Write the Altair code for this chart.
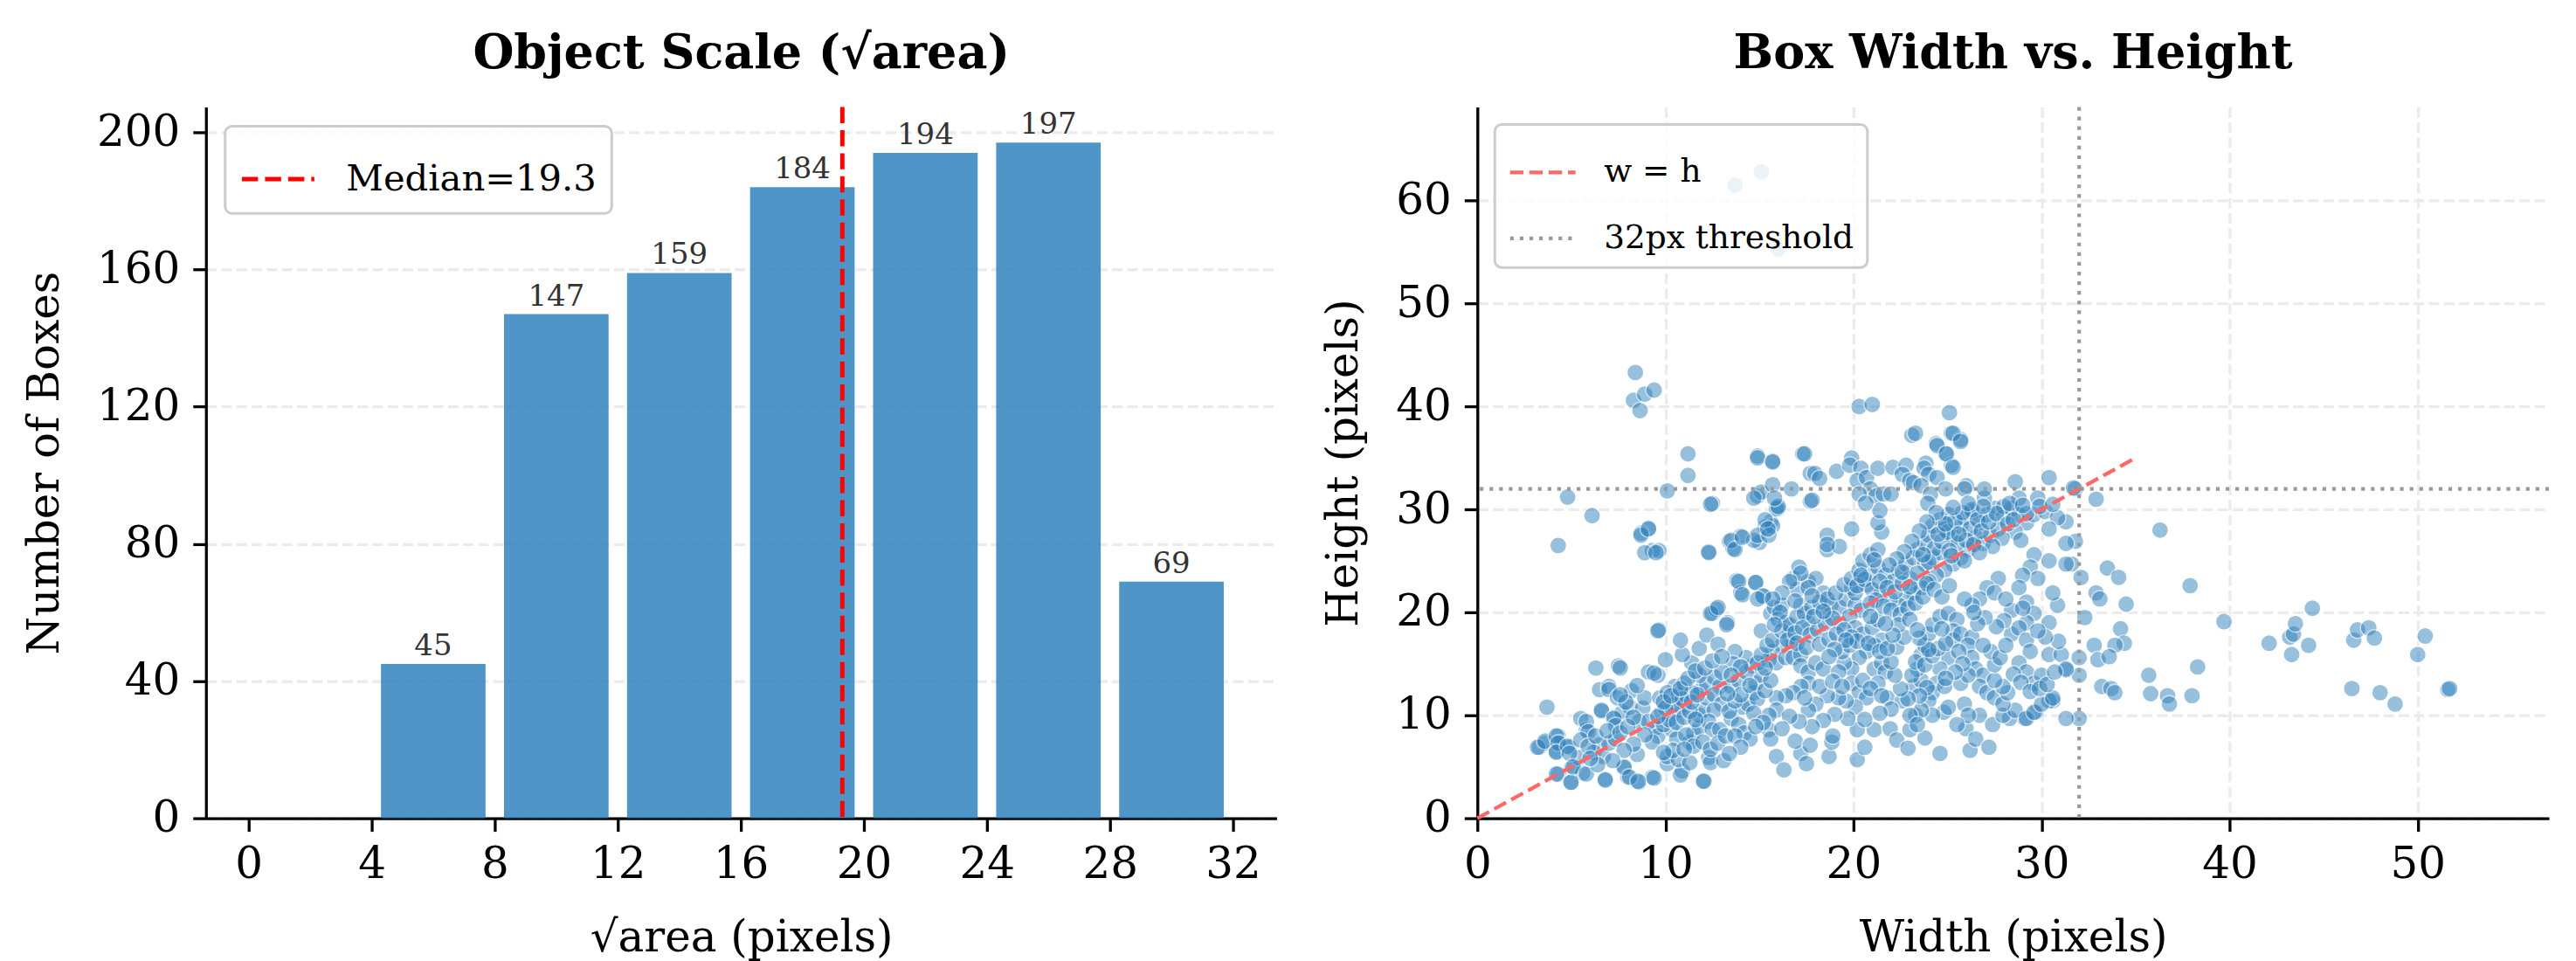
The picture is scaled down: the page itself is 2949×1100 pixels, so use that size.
import altair as alt
import pandas as pd

# ---------------- left panel data ----------------
bin_start = [4, 8, 12, 16, 20, 24, 28]
bin_end = [8, 12, 16, 20, 24, 28, 32]
bin_count = [45, 147, 159, 184, 194, 197, 69]
median_sqrt_area = 19.3
left_x_ticks = [0, 4, 8, 12, 16, 20, 24, 28, 32]
left_y_ticks = [0, 40, 80, 120, 160, 200]

# ---------------- right panel data ----------------
box_wh = [
    (15.1, 62.8), (13.7, 61.5), (16.0, 55.3), (8.4, 43.3), (8.3, 40.6), (8.9, 41.2), (9.4, 41.6), (8.65, 39.6),
    (20.3, 40.0), (21.0, 40.2), (25.1, 39.4), (23.1, 37.2), (23.3, 37.4), (24.4, 36.4), (25.2, 37.4), (25.7, 36.8),
    (24.9, 35.4), (25.2, 34.3), (11.2, 35.4), (11.2, 33.3), (12.5, 30.6), (4.8, 31.2), (6.1, 29.4), (4.3, 26.5),
    (9.1, 28.2), (8.7, 27.7), (9.3, 26.0), (9.65, 26.0), (10.1, 31.8), (14.9, 35.2), (15.7, 34.7), (17.3, 35.4),
    (14.9, 31.3), (15.1, 31.7), (15.7, 32.4), (16.7, 32.0), (16.0, 30.1), (15.6, 28.8), (15.3, 28.3), (15.0, 26.8),
    (13.4, 26.9), (14.0, 27.4), (13.6, 26.2), (12.3, 25.9), (13.8, 23.1), (14.8, 22.9), (14.0, 21.9), (15.2, 21.6),
    (12.5, 19.9), (12.7, 20.3), (13.3, 19.0), (9.65, 18.3), (7.5, 14.8), (6.3, 14.6), (3.7, 10.8), (3.3, 6.9),
    (3.6, 7.3), (4.3, 8.0), (4.4, 7.3), (4.2, 6.5), (4.9, 6.9), (5.0, 4.9), (4.3, 4.3), (5.0, 3.5), (5.6, 4.4),
    (6.8, 3.8), (7.8, 4.9), (8.0, 4.0), (8.6, 3.5), (9.3, 4.0), (12.0, 3.6), (5.5, 9.7), (5.8, 8.6), (6.6, 10.4),
    (6.5, 12.5), (7.0, 12.8), (7.3, 9.8), (7.7, 10.3), (5.4, 5.9),
    (36.3, 28.0), (37.9, 22.6), (39.7, 19.1), (38.3, 14.7), (35.7, 13.9), (35.8, 12.1), (36.7, 11.9), (36.8, 11.1),
    (38.0, 11.9), (42.1, 17.0), (43.2, 17.6), (43.4, 17.9), (43.5, 18.9), (43.3, 15.9), (44.2, 16.8), (44.4, 20.4),
    (46.5, 12.6), (46.6, 17.3), (46.8, 18.3), (47.4, 18.5), (47.7, 17.5), (48.0, 12.2), (48.8, 11.1), (50.0, 15.9),
    (50.4, 17.7), (51.6, 12.5), (51.7, 12.6),
    (30.4, 33.1), (28.6, 32.7), (32.9, 31.0), (31.8, 32.0), (31.3, 28.8), (31.8, 26.9), (31.6, 24.7), (32.1, 23.4),
    (33.5, 24.3), (34.1, 23.4), (32.9, 21.9), (33.1, 21.3), (34.5, 20.8), (32.3, 19.5), (34.2, 18.4), (34.4, 17.0),
    (33.9, 16.8), (32.8, 16.8), (33.0, 15.4), (33.6, 15.7), (32.0, 15.6), (31.3, 14.4), (32.0, 13.9), (33.2, 12.8),
    (33.7, 12.6), (33.9, 12.2), (32.0, 9.7), (30.6, 11.4), (29.7, 10.3), (29.1, 9.7), (28.3, 9.7),
    (3.2, 6.9), (3.6, 7.5), (4.2, 8.0), (4.3, 7.3), (4.2, 6.4), (4.8, 7.0), (4.9, 6.3), (4.2, 4.3), (4.97, 3.5),
    (5.1, 5.0), (5.8, 4.3), (6.8, 3.7), (7.8, 5.0), (8.1, 4.0), (8.55, 3.6), (9.4, 3.9), (8.5, 6.2), (10.1, 5.3),
    (10.9, 4.6), (10.8, 4.2), (10.1, 6.0), (10.7, 5.7), (11.3, 5.4), (12.05, 3.6), (12.3, 5.9), (12.4, 5.4),
    (5.8, 9.4), (5.9, 8.4), (6.6, 10.5), (6.5, 7.1), (6.2, 6.4), (6.7, 6.0), (7.0, 7.3), (7.35, 7.7), (7.25, 9.7),
    (7.35, 9.0), (7.0, 12.5), (7.6, 14.6), (7.45, 11.7), (8.2, 12.4), (8.1, 10.8), (8.8, 10.7), (8.9, 11.7),
    (8.6, 9.4), (9.1, 9.4), (9.5, 8.8), (9.6, 8.0), (9.3, 7.4), (8.9, 8.1), (9.1, 14.2), (9.6, 13.9), (9.7, 11.7),
    (9.8, 10.3), (10.3, 10.0), (10.5, 12.8), (10.1, 12.2), (10.7, 12.0), (11.0, 11.1), (10.7, 10.5), (10.35, 8.6),
    (10.6, 7.7), (11.3, 7.4), (11.5, 8.3), (11.8, 8.8), (11.8, 10.0), (12.0, 10.5), (12.2, 11.7), (11.9, 12.5),
    (12.2, 13.1), (12.6, 13.7), (12.9, 12.8), (12.6, 12.0), (13.0, 11.1), (12.6, 10.5), (12.3, 9.4), (12.5, 8.6),
    (12.9, 8.6), (13.5, 9.7), (13.9, 9.1), (14.2, 8.3), (14.5, 7.7), (14.1, 10.8), (14.4, 11.1), (14.7, 12.2),
    (14.8, 13.1), (15.1, 13.9), (14.6, 14.8), (14.3, 15.6), (13.7, 16.2), (13.6, 15.0), (13.0, 14.2), (11.8, 13.9),
    (11.4, 15.1), (10.9, 15.9), (10.8, 17.3), (10.0, 15.4), (9.4, 14.1), (11.8, 16.5), (12.2, 17.8), (12.8, 16.9),
    (9.6, 18.2), (12.4, 19.9), (12.8, 20.5), (13.25, 18.8), (13.9, 23.0), (14.1, 21.7), (14.8, 22.9), (15.2, 21.6),
    (14.9, 21.3), (15.1, 18.2), (15.6, 19.9), (15.8, 20.5), (16.2, 20.7), (16.0, 19.3), (16.4, 19.0), (16.6, 17.9),
    (16.8, 16.8), (16.2, 16.8), (15.7, 16.2), (15.5, 15.4), (15.9, 15.1), (16.4, 15.6), (16.8, 15.6), (17.2, 15.9),
    (17.2, 14.8), (17.6, 14.2), (18.0, 15.1), (18.4, 14.5), (17.6, 13.1), (17.2, 12.8), (16.8, 12.2), (16.4, 11.9),
    (15.9, 11.7), (15.9, 10.5), (15.5, 10.0), (15.5, 8.6), (15.6, 7.7), (15.9, 6.0), (16.3, 4.7), (17.2, 6.3),
    (17.5, 5.3), (18.7, 6.0), (18.85, 7.4), (18.9, 8.0), (20.2, 5.7), (20.2, 8.6), (20.6, 6.9), (21.1, 8.6),
    (21.95, 8.7), (22.3, 7.6), (23.0, 8.6), (23.3, 10.0), (23.8, 7.8), (24.6, 6.3), (24.8, 10.3), (26.2, 6.6),
    (25.98, 8.7), (26.5, 7.7), (26.7, 10.0), (27.4, 9.1), (27.95, 10.0), (28.6, 10.5), (29.2, 9.7), (29.6, 10.3),
    (30.4, 11.4), (30.0, 11.1),
    (17.6, 19.0), (17.2, 20.7), (17.0, 22.2), (16.8, 23.3), (17.1, 24.4), (17.6, 23.0), (18.0, 23.3), (18.4, 21.9),
    (18.8, 20.7), (18.6, 19.9), (19.25, 19.0), (19.25, 20.5), (19.6, 21.3), (19.9, 22.4), (20.1, 20.7), (20.4, 20.2),
    (19.8, 19.6), (20.1, 18.5), (20.5, 17.9), (21.0, 18.5), (21.3, 19.3), (21.5, 17.3), (21.1, 16.8), (20.7, 16.2),
    (20.3, 15.6), (19.9, 14.5), (19.5, 15.1), (19.2, 14.2), (19.9, 13.1), (20.3, 12.2), (20.5, 13.4), (21.1, 14.5),
    (21.5, 15.1), (21.7, 14.2), (21.3, 13.1), (20.7, 11.7), (20.1, 10.8), (19.6, 11.4), (19.2, 11.7), (18.6, 11.9),
    (18.2, 12.8), (18.0, 11.1), (17.6, 10.5), (17.4, 11.7), (21.8, 11.7), (22.6, 11.4), (23.2, 12.8), (23.6, 13.4),
    (23.4, 14.5), (23.6, 15.9), (23.8, 16.8), (24.0, 17.9), (24.2, 18.8), (24.6, 19.6), (25.05, 19.9), (25.5, 19.3),
    (25.3, 18.2), (25.3, 17.3), (25.7, 17.9), (26.3, 17.6), (26.1, 16.8), (26.3, 15.6), (26.5, 14.5), (26.9, 13.9),
    (26.7, 12.8), (27.1, 12.2), (27.5, 11.7), (27.95, 11.1), (28.2, 12.2), (27.95, 12.8), (27.5, 13.4), (27.5, 14.9),
    (27.3, 16.2), (26.9, 16.8), (25.05, 15.6), (24.6, 14.5), (24.4, 13.1), (24.2, 12.2), (24.0, 11.4), (25.05, 10.8),
    (25.9, 11.1), (26.1, 10.0), (25.5, 9.1), (24.2, 10.0), (23.6, 10.5), (23.0, 10.0), (23.4, 9.1), (24.85, 12.8),
    (25.7, 13.1), (26.1, 13.9),
    (20.1, 21.9), (20.7, 22.7), (20.9, 23.8), (21.3, 24.4), (21.7, 23.6), (22.1, 23.0), (22.4, 24.1), (22.8, 24.7),
    (23.2, 25.3), (23.4, 26.1), (23.8, 26.7), (24.0, 27.5), (24.2, 28.4), (24.6, 29.0), (25.05, 29.5), (24.85, 28.1),
    (25.3, 27.3), (25.7, 28.4), (25.9, 29.2), (26.3, 29.8), (26.7, 28.7), (27.1, 29.5), (27.5, 30.1), (27.95, 29.2),
    (28.4, 30.1), (28.8, 29.5), (29.2, 28.7), (29.6, 29.5), (30.2, 29.8), (30.85, 29.2), (26.5, 27.3), (26.1, 26.1),
    (25.7, 25.3), (25.3, 24.7), (24.85, 24.1), (24.4, 23.6), (24.0, 23.0), (23.6, 22.4), (23.2, 21.9), (22.8, 21.3),
    (22.4, 20.7), (21.95, 21.3), (21.5, 21.9), (23.0, 23.3), (23.8, 24.7), (24.2, 25.3), (24.6, 25.8), (25.5, 26.7),
    (26.9, 26.7), (27.3, 27.5), (27.7, 28.1), (28.6, 27.8), (28.9, 27.0), (29.6, 25.6), (29.4, 24.4), (29.8, 23.3),
    (28.99, 23.6), (28.8, 22.4), (29.2, 21.0), (29.6, 19.9), (29.2, 19.0), (30.4, 19.0), (30.85, 20.7), (30.6, 21.9),
    (30.4, 25.0), (31.3, 24.7), (31.3, 26.7), (30.4, 28.1), (27.7, 23.3), (27.1, 22.4), (26.7, 21.3), (26.3, 20.7),
    (25.9, 21.3), (27.5, 21.9), (28.4, 20.2), (28.4, 17.9), (28.8, 18.5), (29.2, 17.3), (29.4, 16.2), (28.8, 15.1),
    (29.2, 14.2), (29.6, 13.1), (30.0, 13.9), (30.4, 15.9), (31.05, 15.9), (31.3, 14.5), (30.6, 11.7), (31.3, 9.7),
    (13.5, 12.8), (13.9, 13.4), (14.3, 14.2), (14.9, 15.1), (15.1, 15.9), (15.4, 16.8), (15.7, 17.3), (16.2, 18.2),
    (16.6, 18.8), (17.0, 19.6), (17.4, 19.9), (17.8, 20.5), (18.2, 21.0), (18.6, 21.3), (19.05, 21.9), (19.5, 22.7),
    (19.9, 23.3), (20.3, 24.1), (20.5, 25.0), (20.9, 25.6), (21.3, 26.1), (21.5, 27.8), (21.3, 28.7), (19.9, 28.1),
    (18.6, 27.5), (18.6, 26.1), (19.25, 26.4), (17.6, 22.4), (17.2, 23.8), (16.6, 23.0), (16.2, 21.9), (15.7, 21.3),
    (11.0, 13.1), (11.4, 12.2),
    (14.7, 27.0), (14.9, 27.5), (15.7, 28.4), (15.5, 27.5), (15.9, 30.1), (15.3, 29.0), (13.5, 27.0), (13.7, 26.1),
    (14.1, 27.3), (12.4, 30.5), (12.3, 25.8), (8.7, 27.5), (9.1, 28.1), (8.9, 25.8), (9.5, 25.8), (17.7, 30.8),
    (18.6, 26.6),
    (14.9, 35.0), (15.7, 34.6), (17.4, 35.4), (17.7, 33.5), (17.95, 33.5), (18.2, 33.0), (19.1, 33.7), (19.9, 35.0),
    (19.8, 34.3), (20.4, 34.0), (20.2, 32.8), (20.7, 33.1), (20.9, 32.0), (21.2, 31.3), (21.6, 31.5), (21.4, 29.9),
    (21.3, 34.0), (22.1, 34.1), (22.8, 34.3), (22.6, 33.4), (23.0, 32.8), (23.2, 32.6), (23.85, 34.5), (23.75, 34.0),
    (24.0, 33.4), (24.45, 33.1), (23.6, 32.3), (24.1, 31.5), (24.45, 36.2), (24.95, 35.4), (25.3, 37.4), (25.7, 36.6),
    (25.3, 34.1), (26.0, 32.3), (26.96, 31.1), (26.3, 30.0), (29.8, 31.1), (28.8, 31.1), (28.0, 30.3), (29.2, 29.6),
    (31.7, 32.1), (17.8, 30.9), (16.0, 30.3), (15.8, 31.1), (14.7, 31.1), (15.45, 28.1), (20.3, 31.5), (20.65, 30.6),
    (22.0, 31.5), (23.95, 30.6), (24.9, 32.0), (25.9, 32.0), (26.96, 32.0),
    # dense clusters, estimated
    (24.3, 26.2), (24.7, 26.9), (25.0, 27.8), (25.4, 28.9), (25.8, 29.7), (26.2, 28.1), (26.6, 29.0), (26.0, 27.0),
    (25.1, 26.0), (24.5, 27.6), (24.9, 28.6), (25.6, 27.6), (26.4, 26.6), (26.8, 27.9), (27.2, 28.8), (27.6, 29.6),
    (26.9, 30.3), (26.1, 30.6), (25.3, 30.2), (24.4, 29.7), (23.9, 28.8), (23.5, 27.9), (23.1, 26.9), (22.7, 25.9),
    (22.3, 25.2), (27.9, 27.2), (28.2, 28.6), (28.5, 29.0), (27.4, 26.4), (26.7, 25.8), (25.9, 25.0), (25.2, 25.5),
    (24.0, 24.9), (23.7, 25.6), (28.3, 30.6), (29.0, 30.4), (29.9, 30.3), (30.6, 30.5),
    (20.2, 22.6), (20.6, 23.2), (21.0, 22.2), (21.4, 23.0), (21.8, 22.4), (22.2, 22.0), (22.6, 22.8), (23.0, 22.5),
    (21.2, 21.2), (20.9, 20.9), (21.6, 20.6), (22.0, 20.2), (22.5, 19.8), (22.9, 20.4), (23.3, 20.9), (23.7, 21.5),
    (21.9, 24.6), (21.1, 25.1), (20.4, 23.6), (22.6, 23.9), (23.4, 23.8), (23.9, 22.8), (24.3, 22.2), (24.7, 21.5),
    (25.1, 22.6),
    (16.5, 17.3), (16.9, 18.0), (17.3, 18.5), (17.7, 17.8), (18.1, 18.3), (18.5, 18.9), (18.9, 19.4), (17.9, 19.6),
    (17.0, 17.0), (17.5, 16.6), (18.2, 16.9), (18.7, 17.4), (19.1, 17.9), (19.5, 18.3), (19.9, 17.6), (18.4, 20.1),
    (17.8, 21.6), (16.9, 21.1), (16.1, 20.0), (15.8, 18.8),
    (9.9, 9.1), (10.2, 9.6), (10.6, 9.3), (11.0, 9.8), (11.3, 10.4), (11.6, 9.6), (10.4, 11.0), (10.9, 11.6),
    (11.4, 11.3), (11.7, 12.0), (10.0, 10.7), (9.6, 9.9), (9.9, 11.3), (10.3, 11.9), (10.8, 12.6), (11.2, 13.6),
    (11.6, 14.3), (12.1, 14.6), (12.5, 15.3), (13.0, 15.7), (11.1, 8.1), (11.5, 7.0), (12.0, 7.4), (12.4, 6.7),
    (12.8, 7.3), (13.2, 8.0), (10.4, 6.6), (9.9, 6.4), (11.0, 6.7),
    (13.4, 10.4), (13.7, 11.4), (14.0, 12.0), (13.3, 12.1), (14.5, 12.9), (14.9, 11.6), (15.3, 12.4), (15.6, 13.4),
    (15.3, 14.6), (14.0, 14.7), (13.5, 13.9), (14.7, 10.2), (15.2, 9.3), (14.8, 8.9), (13.7, 8.0), (14.0, 6.9),
    (13.1, 5.6), (13.4, 6.3),
    (23.1, 13.9), (23.3, 15.2), (23.8, 14.9), (24.2, 15.8), (24.5, 16.5), (24.9, 17.0), (24.0, 16.4), (23.5, 17.5),
    (24.7, 18.4), (25.6, 16.2), (25.8, 15.0), (25.4, 14.2), (24.9, 13.6), (23.9, 12.7), (23.5, 11.9), (22.9, 11.6),
    (22.5, 12.6), (22.2, 13.9), (22.0, 15.2), (22.3, 16.6), (22.7, 17.6), (22.4, 18.8), (23.0, 19.3), (23.4, 18.3),
    (5.5, 7.6), (5.9, 7.0), (6.3, 8.0), (6.9, 8.5), (7.6, 8.3), (8.0, 8.9), (8.3, 9.8), (7.9, 11.3), (7.6, 12.0),
    (8.5, 12.9), (8.3, 7.2), (7.8, 6.6), (7.2, 5.6), (6.4, 5.2), (6.0, 5.8),
    (19.4, 16.2), (19.8, 16.8), (20.2, 17.2), (20.8, 17.0), (21.4, 16.2), (21.8, 16.5), (22.1, 17.8), (21.7, 18.9),
    (20.9, 19.6), (19.6, 17.3), (19.0, 16.4), (18.7, 15.7), (18.9, 13.3), (19.4, 12.8), (20.9, 12.6), (21.5, 11.9),
    (22.0, 10.6), (21.4, 10.2), (20.6, 9.6), (19.7, 9.7), (19.0, 10.1), (18.4, 9.5), (17.8, 8.9), (17.1, 9.4),
    (16.6, 9.9), (16.2, 8.7), (16.9, 7.5), (17.7, 7.1),
    (27.8, 15.6), (28.1, 16.8), (28.5, 14.0), (28.9, 13.2), (29.4, 12.3), (29.9, 12.6), (30.3, 13.0), (30.7, 14.2),
    (30.9, 17.2), (30.2, 17.6), (29.8, 18.2), (29.0, 20.4), (28.1, 21.3), (28.0, 19.2), (27.6, 18.6), (27.0, 19.5),
    (26.6, 18.9), (26.4, 20.0), (22.9, 6.8), (27.2, 6.9),
]
diag_w = [0, 35]
threshold_px = 32
right_x_ticks = [0, 10, 20, 30, 40, 50]
right_y_ticks = [0, 10, 20, 30, 40, 50, 60]

FONT = "DejaVu Serif"
BLUE = "#3182bd"
LEGEND_FRAME = dict(strokeColor="#cccccc", fillColor="rgba(255,255,255,0.8)", cornerRadius=8, labelLimit=2000)

# ---------------- left: histogram ----------------
hist_df = pd.DataFrame({"start": bin_start, "end": bin_end, "count": bin_count})
hist_df["label"] = hist_df["count"].astype(str)

xl = alt.Scale(domain=[-1.39, 33.42], nice=False, zero=False)
yl = alt.Scale(domain=[0, 207.4], nice=False)
x_title_l = "√area (pixels)"
y_title_l = "Number of Boxes"

base_h = alt.Chart(hist_df).transform_calculate(
    x0="datum.start + 0.3", x1="datum.end - 0.3", xc="(datum.start + datum.end) / 2"
)
bars = base_h.mark_rect(color=BLUE, opacity=0.85).encode(
    x=alt.X("x0:Q", scale=xl, title=x_title_l,
            axis=alt.Axis(values=left_x_ticks, grid=False, format="d", labelFlush=False)),
    x2="x1:Q",
    y=alt.Y("count:Q", scale=yl, title=y_title_l,
            axis=alt.Axis(values=left_y_ticks, grid=True, format="d")),
    y2=alt.datum(0),
)
bar_text = base_h.mark_text(font=FONT, fontSize=34, color="#333333", baseline="alphabetic", dy=-10).encode(
    x=alt.X("xc:Q", scale=xl, title=x_title_l),
    y=alt.Y("count:Q", scale=yl, title=y_title_l),
    text="label:N",
)
med_label = f"Median={median_sqrt_area}"
med_df = pd.DataFrame({"m": [median_sqrt_area], "name": [med_label]})
median = alt.Chart(med_df).mark_rule(strokeDash=[18.5, 8], strokeWidth=5).encode(
    x=alt.X("m:Q", scale=xl, title=x_title_l),
    color=alt.Color("name:N", scale=alt.Scale(domain=[med_label], range=["#ff0000"]),
                    legend=alt.Legend(title=None, orient="top-left", offset=22, symbolType="stroke",
                                      symbolSize=6889, symbolStrokeWidth=5, symbolDash=[18.5, 8],
                                      labelFontSize=41.7, labelOffset=34, padding=16.7, **LEGEND_FRAME)),
)
left = alt.layer(bars, bar_text, median).properties(
    width=1227, height=815,
    title=alt.TitleParams("Object Scale (√area)", offset=31),
)

# ---------------- right: scatter ----------------
pts_df = pd.DataFrame(box_wh, columns=["w", "h"])
xr = alt.Scale(domain=[0, 56.98], nice=False)
yr = alt.Scale(domain=[0, 69.1], nice=False)
x_title_r = "Width (pixels)"
y_title_r = "Height (pixels)"

series_names = ["w = h", "32px threshold"]
series_color = alt.Scale(domain=series_names, range=["#ff6666", "#999999"])
series_dash = alt.Scale(domain=series_names, range=[[15.4, 6.7], [4.2, 6.9]])
leg_r = alt.Legend(title=None, orient="top-left", offset=20, symbolType="stroke", symbolSize=5625,
                   symbolStrokeWidth=4.2, labelFontSize=37.5, labelOffset=30, padding=15, rowPadding=16.5,
                   **LEGEND_FRAME)

scatter = alt.Chart(pts_df).mark_circle(size=380, color=BLUE, opacity=0.5, stroke="white", strokeWidth=1.6).encode(
    x=alt.X("w:Q", scale=xr, title=x_title_r, axis=alt.Axis(values=right_x_ticks, grid=True, labelFlush=False)),
    y=alt.Y("h:Q", scale=yr, title=y_title_r, axis=alt.Axis(values=right_y_ticks, grid=True)),
)
diag_df = pd.DataFrame({"w": diag_w, "h": diag_w, "series": [series_names[0]] * len(diag_w)})
diag = alt.Chart(diag_df).mark_line(strokeWidth=4.2).encode(
    x=alt.X("w:Q", scale=xr, title=x_title_r),
    y=alt.Y("h:Q", scale=yr, title=y_title_r),
    color=alt.Color("series:N", scale=series_color, legend=leg_r),
    strokeDash=alt.StrokeDash("series:N", scale=series_dash, legend=leg_r),
)
thr_df = pd.DataFrame({"w": [threshold_px], "h": [threshold_px], "series": [series_names[1]]})
hline = alt.Chart(thr_df).mark_rule(strokeWidth=4.2).encode(
    y=alt.Y("h:Q", scale=yr, title=y_title_r),
    color=alt.Color("series:N", scale=series_color, legend=leg_r),
    strokeDash=alt.StrokeDash("series:N", scale=series_dash, legend=leg_r),
)
vline = alt.Chart(thr_df).mark_rule(strokeWidth=4.2).encode(
    x=alt.X("w:Q", scale=xr, title=x_title_r),
    color=alt.Color("series:N", scale=series_color, legend=leg_r),
    strokeDash=alt.StrokeDash("series:N", scale=series_dash, legend=leg_r),
)
right = alt.layer(scatter, diag, hline, vline).properties(
    width=1228, height=815,
    title=alt.TitleParams("Box Width vs. Height", offset=31),
)

chart = alt.hconcat(left, right, spacing=230, bounds="flush").resolve_scale(
    color="independent", strokeDash="independent"
).resolve_legend(
    color="independent", strokeDash="independent"
).properties(
    padding={"left": 26, "top": 34, "right": 28, "bottom": 4},
    background="white",
).configure_view(stroke=None).configure_axis(
    labelFont=FONT, labelFontSize=50, labelColor="black",
    titleFont=FONT, titleFontSize=50, titleFontWeight="normal", titleColor="black",
    domainColor="black", domainWidth=3.3, tickColor="black", tickWidth=3.3, tickSize=15,
    gridColor="#ebebeb", gridWidth=3.3, gridDash=[12, 5.3], titlePadding=34,
).configure_axisX(labelPadding=13).configure_axisY(labelPadding=15).configure_title(
    font=FONT, fontSize=54, fontWeight="bold", color="black", anchor="middle",
).configure_legend(labelFont=FONT, labelColor="black", strokeWidth=3)

chart.save("out.html", embed_options={"renderer": "svg", "actions": False})
